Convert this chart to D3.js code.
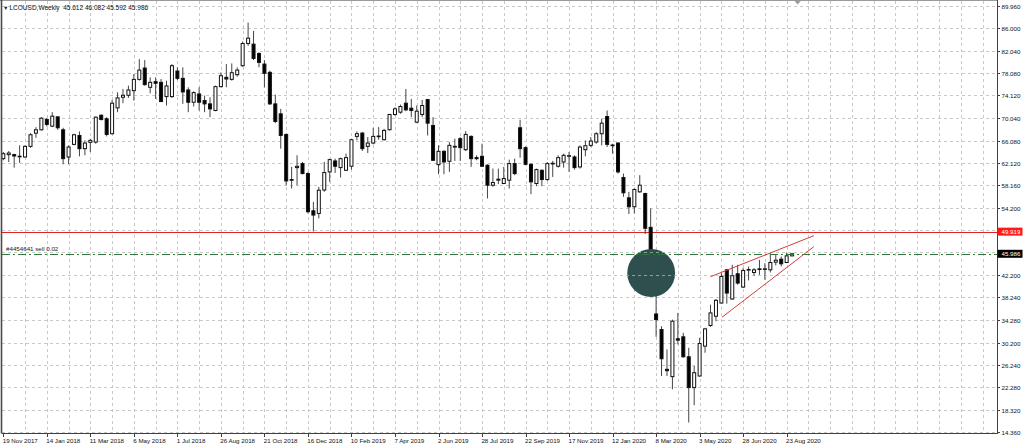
<!DOCTYPE html>
<html><head><meta charset="utf-8">
<script src="https://cdn.jsdelivr.net/npm/d3@7"></script>
<style>
html,body{margin:0;padding:0;background:#fff;}
svg{display:block;}
text{font-family:"Liberation Sans",Arial,sans-serif;}
</style></head><body>
<svg id="chart" width="1024" height="447"></svg>
<script>
const symbolName = "LCOUSD,Weekly";
const openP = [62.87,63.58,63.58,63.28,63.16,65.05,67.40,67.99,69.82,68.64,70.29,67.99,63.16,65.40,66.99,64.64,65.76,65.81,70.58,69.94,
67.29,71.88,73.76,74.12,74.94,76.94,78.95,75.53,76.53,76.41,73.88,73.88,78.42,77.12,75.06,72.88,74.35,73.18,72.59,71.41,
75.65,77.30,76.94,77.77,79.36,83.31,83.19,81.54,79.65,78.18,72.59,70.82,67.17,59.16,61.28,61.99,60.22,53.62,53.15,57.30,
60.52,62.46,61.28,60.81,61.52,66.82,67.41,65.05,65.64,66.82,66.23,68.00,70.71,71.12,72.71,71.83,69.35,70.71,73.36,68.76,
61.81,64.17,62.40,65.05,66.41,64.46,66.82,63.05,63.29,61.70,58.16,59.05,58.46,59.05,61.99,68.35,64.82,61.87,58.46,60.81,
59.16,61.93,61.52,62.28,63.29,63.17,61.40,64.46,65.23,65.82,67.29,70.35,65.29,65.64,59.52,55.92,54.33,56.98,56.69,50.68,
35.31,32.54,25.48,24.18,30.90,31.25,27.71,22.24,24.30,29.60,33.25,34.90,37.26,43.14,37.96,42.44,40.08,43.09,42.67,43.20,
43.26,43.14,44.50,45.03,44.44,45.612];
const highP = [64.05,64.22,63.75,65.23,65.23,67.40,68.46,70.23,70.11,71.11,70.35,68.35,65.23,67.29,67.70,66.11,66.40,70.35,70.70,70.23,
73.29,74.65,75.24,75.83,77.89,80.54,80.36,77.30,77.30,77.00,76.71,79.65,79.07,79.07,75.53,74.82,75.53,74.06,73.76,75.83,
78.18,79.65,79.77,79.07,83.66,87.02,85.54,81.72,80.36,78.48,74.24,71.70,67.29,61.40,63.46,62.28,60.51,55.21,57.86,62.30,
62.87,62.87,63.05,63.76,66.41,67.70,67.58,66.70,68.35,68.47,68.17,70.82,72.00,72.47,75.24,73.47,72.30,73.30,73.47,70.24,
65.23,64.35,65.82,66.41,66.70,67.76,67.00,63.46,65.52,61.87,61.11,61.11,61.40,62.70,62.87,69.76,65.05,61.99,61.11,60.93,
62.28,62.46,63.46,63.76,64.05,63.46,65.23,66.11,66.70,67.58,69.94,71.41,65.52,65.82,60.22,56.98,57.57,59.93,56.81,54.04,
41.00,33.13,29.01,34.31,35.49,31.96,29.31,26.07,31.07,32.84,36.96,37.96,42.56,43.26,44.03,44.03,43.44,43.73,43.44,44.91,
44.32,46.09,45.79,45.50,46.21,46.082];
const lowP = [62.58,62.28,61.28,62.10,63.05,64.81,66.58,67.88,68.58,68.46,67.99,61.87,61.87,65.23,63.28,63.46,64.05,65.52,69.64,66.82,
67.17,71.11,72.71,73.65,73.18,76.71,75.83,74.47,73.47,72.94,72.29,73.65,76.83,72.59,71.11,72.12,71.41,71.11,70.23,71.29,
75.53,75.53,76.71,77.42,79.18,82.89,80.36,79.07,75.53,72.41,69.17,64.64,58.16,57.57,58.16,60.10,53.15,49.95,52.27,57.00,
58.75,60.34,59.52,60.69,60.93,66.11,64.23,63.87,65.41,66.23,66.11,67.88,70.47,70.82,71.29,70.24,69.17,70.24,66.98,62.46,
60.11,60.11,60.52,62.46,62.46,64.23,61.40,62.58,61.40,55.81,57.87,58.34,58.34,57.57,59.93,63.05,61.70,56.57,57.99,57.99,
58.93,59.63,61.28,61.28,60.52,60.93,61.11,63.29,64.93,65.52,65.23,64.93,63.76,60.22,56.10,53.04,53.16,56.81,49.50,45.50,
31.25,24.30,24.30,21.94,29.89,27.54,16.05,19.12,24.18,28.42,33.02,34.02,37.14,37.14,37.84,40.50,39.91,41.26,42.09,42.26,
41.38,42.67,43.91,43.73,44.32,45.592];
const closeP = [63.75,63.87,63.34,63.30,65.05,67.11,67.99,70.05,68.94,70.41,68.35,62.87,64.93,67.11,64.64,65.64,66.11,70.23,69.82,67.17,
72.71,73.65,74.12,75.06,76.94,78.59,76.00,76.41,76.24,73.00,75.77,79.36,77.12,74.71,72.88,74.59,72.88,72.59,71.70,75.65,
77.59,77.00,78.12,78.59,83.31,84.25,80.66,79.95,78.01,72.59,69.47,66.99,58.92,59.04,61.51,60.22,53.45,52.86,57.27,60.40,
62.70,61.52,62.87,63.05,66.23,67.29,64.64,65.64,66.82,66.88,67.88,70.71,71.71,72.12,71.53,71.41,71.29,72.30,69.17,62.58,
64.17,62.28,65.23,64.93,64.82,67.17,62.87,62.87,61.52,58.16,58.63,59.22,59.34,61.99,60.22,64.64,61.87,58.75,60.93,59.16,
61.99,62.05,63.05,63.46,63.40,61.28,64.93,65.17,65.99,67.29,69.17,65.41,65.17,60.52,56.81,54.33,57.40,58.16,50.51,45.79,
34.31,27.36,25.24,34.02,30.66,27.71,22.24,24.89,30.07,32.66,35.49,37.73,41.97,39.02,42.09,40.79,43.03,43.20,43.14,43.32,
43.32,44.44,44.85,44.21,45.62,45.986];

const xTickLabels = ["19 Nov 2017","14 Jan 2018","11 Mar 2018","6 May 2018","1 Jul 2018","26 Aug 2018","21 Oct 2018",
  "16 Dec 2018","10 Feb 2019","7 Apr 2019","2 Jun 2019","28 Jul 2019","22 Sep 2019","17 Nov 2019","12 Jan 2020",
  "8 Mar 2020","3 May 2020","28 Jun 2020","23 Aug 2020"];
const barsPerLabel = 8;
const barsPerGrid = 4;
const yTickValues = [89.96,86.00,82.04,78.08,74.12,70.04,66.08,62.12,58.16,54.20,50.24,46.28,42.20,38.24,34.28,30.20,26.24,22.28,18.32,14.36];
const hiddenYTicks = [50.24,46.28];
const resistanceLevel = 49.919;
const orderLevel = 45.986;
const orderLabel = "#4454641 sell 0.02";
const wedgeUpper = [[130.0,41.92],[149.0,49.20]];
const wedgeLower = [[132.1,34.72],[149.0,47.25]];
const markerIdx = [114.7,123.5];
const markerPrice = [38.30,46.85];

const W = 1024, H = 447;
const plotLeft = 2, plotRight = 997, plotTop = 1, plotBottom = 433.5;
const svg = d3.select("#chart");
const n = closeP.length;

const x = d3.scaleLinear().domain([0, n - 1]).range([3.3, 3.3 + (n - 1) * 5.44]);
const y = d3.scaleLinear().domain([14.36, 89.96]).range([432, 6]);

svg.append("rect").attr("width", W).attr("height", H).attr("fill", "#fff");

function drawHGrid(g, color) {
  g.selectAll("line.h").data(yTickValues).enter().append("line")
    .attr("x1", plotLeft).attr("x2", plotRight)
    .attr("y1", d => Math.round(y(d)) + 0.5).attr("y2", d => Math.round(y(d)) + 0.5)
    .attr("stroke", color).attr("stroke-dasharray", "3,3").attr("shape-rendering", "crispEdges");
}
function drawVGrid(g, color) {
  const vIdx = d3.range(barsPerGrid, 400, barsPerGrid).filter(i => x(i) < plotRight - 1);
  g.selectAll("line.v").data(vIdx).enter().append("line")
    .attr("x1", d => Math.round(x(d)) + 0.5).attr("x2", d => Math.round(x(d)) + 0.5)
    .attr("y1", plotTop).attr("y2", plotBottom)
    .attr("stroke", color).attr("stroke-dasharray", "3,3").attr("shape-rendering", "crispEdges");
}
const gridG = svg.append("g");
drawHGrid(gridG, "#c8c8c8");
drawVGrid(gridG, "#c8c8c8");

// resistance line
svg.append("line").attr("x1", plotLeft).attr("x2", plotRight)
  .attr("y1", Math.round(y(resistanceLevel)) + 0.5).attr("y2", Math.round(y(resistanceLevel)) + 0.5)
  .attr("stroke", "#e02424").attr("stroke-width", 1).attr("shape-rendering", "crispEdges");

// candles
const candles = d3.range(n).map(i => ({i, o: openP[i], h: highP[i], l: lowP[i], c: closeP[i]}));
const cg = svg.append("g");
cg.selectAll("line.wick").data(candles).enter().append("line")
  .attr("x1", d => x(d.i)).attr("x2", d => x(d.i))
  .attr("y1", d => y(d.h)).attr("y2", d => y(d.l))
  .attr("stroke", "#444").attr("stroke-width", 1);
cg.selectAll("rect.body").data(candles).enter().append("rect")
  .attr("x", d => x(d.i) - 1.5).attr("width", 3)
  .attr("y", d => y(Math.max(d.o, d.c)))
  .attr("height", d => Math.max(0.6, Math.abs(y(d.o) - y(d.c))))
  .attr("fill", d => d.c >= d.o ? "#fff" : "#000")
  .attr("stroke", "#111").attr("stroke-width", 1);

// marker ellipse
const ex0 = x(markerIdx[0]), ex1 = x(markerIdx[1]);
const ey0 = y(markerPrice[1]), ey1 = y(markerPrice[0]);
svg.append("clipPath").attr("id", "ellclip").append("ellipse")
  .attr("cx", (ex0 + ex1) / 2).attr("cy", (ey0 + ey1) / 2)
  .attr("rx", (ex1 - ex0) / 2).attr("ry", (ey1 - ey0) / 2);
svg.append("ellipse")
  .attr("cx", (ex0 + ex1) / 2).attr("cy", (ey0 + ey1) / 2)
  .attr("rx", (ex1 - ex0) / 2).attr("ry", (ey1 - ey0) / 2)
  .attr("fill", "#2f4f4f");
drawHGrid(svg.append("g").attr("clip-path", "url(#ellclip)"), "#8aa0a0");

// order line
svg.append("line").attr("x1", plotLeft).attr("x2", plotRight)
  .attr("y1", Math.round(y(orderLevel)) + 0.5).attr("y2", Math.round(y(orderLevel)) + 0.5)
  .attr("stroke", "#2c7a3a").attr("stroke-width", 1).attr("stroke-dasharray", "8,3,2,3")
  .attr("shape-rendering", "crispEdges");
svg.append("text").attr("x", 6).attr("y", y(orderLevel) - 2.5)
  .attr("font-size", 6.2).attr("fill", "#222").text(orderLabel);

// wedge lines
const line = d3.line().x(d => x(d[0])).y(d => y(d[1]));
[wedgeUpper, wedgeLower].forEach(w => {
  svg.append("path").attr("d", line(w)).attr("fill", "none")
    .attr("stroke", "#d63a3a").attr("stroke-width", 1);
});

// frame
svg.append("line").attr("x1", 0).attr("x2", plotRight).attr("y1", 0.5).attr("y2", 0.5)
  .attr("stroke", "#9a9a9a").attr("shape-rendering", "crispEdges");
svg.append("line").attr("x1", 1.5).attr("x2", 1.5).attr("y1", 0).attr("y2", plotBottom)
  .attr("stroke", "#4a4a4a").attr("stroke-width", 1.6);
svg.append("line").attr("x1", plotLeft).attr("x2", plotRight).attr("y1", plotBottom).attr("y2", plotBottom)
  .attr("stroke", "#404040").attr("shape-rendering", "crispEdges");
svg.append("line").attr("x1", plotRight + 0.5).attr("x2", plotRight + 0.5).attr("y1", 0).attr("y2", plotBottom)
  .attr("stroke", "#404040").attr("shape-rendering", "crispEdges");

// shift marker
const sx = x(n - 1) + 5.5;
svg.append("path").attr("d", `M${sx - 3},1 L${sx + 3},1 L${sx},4.5 Z`).attr("fill", "#9a9a9a");

// y axis labels
const fmt = d3.format(".3f");
const yAx = svg.append("g");
yTickValues.filter(v => !hiddenYTicks.includes(v)).forEach(v => {
  const yy = Math.round(y(v)) + 0.5;
  yAx.append("line").attr("x1", plotRight).attr("x2", plotRight + 3).attr("y1", yy).attr("y2", yy)
    .attr("stroke", "#404040").attr("shape-rendering", "crispEdges");
  yAx.append("text").attr("x", 1001.5).attr("y", yy + 2.2).attr("font-size", 6.2).attr("fill", "#111").text(fmt(v));
});
[[resistanceLevel, "#ff1a1a"], [orderLevel, "#000"]].forEach(([v, col]) => {
  const yy = y(v);
  yAx.append("rect").attr("x", plotRight + 0.5).attr("y", yy - 4).attr("width", 25).attr("height", 8).attr("fill", col);
  yAx.append("text").attr("x", 1001.5).attr("y", yy + 2.2).attr("font-size", 6.2).attr("fill", "#fff").text(fmt(v));
});

// x axis labels
const xAx = svg.append("g");
xTickLabels.forEach((lab, k) => {
  const xx = x(k * barsPerLabel);
  xAx.append("line").attr("x1", Math.round(xx) + 0.5).attr("x2", Math.round(xx) + 0.5)
    .attr("y1", plotBottom).attr("y2", plotBottom + 3).attr("stroke", "#404040").attr("shape-rendering", "crispEdges");
  xAx.append("text").attr("x", xx - 0.6).attr("y", 442.5).attr("font-size", 6.2).attr("fill", "#111").text(lab);
});

// title
const last = n - 1;
svg.append("text").attr("x", 3).attr("y", 9.5).attr("font-size", 5.5).attr("fill", "#222").text("\u25BC");
svg.append("text").attr("x", 9.5).attr("y", 9.5).attr("font-size", 6.5).attr("fill", "#111")
  .attr("xml:space", "preserve")
  .text(`${symbolName}  ${fmt(openP[last])} ${fmt(highP[last])} ${fmt(lowP[last])} ${fmt(closeP[last])}`);
</script>
</body></html>
